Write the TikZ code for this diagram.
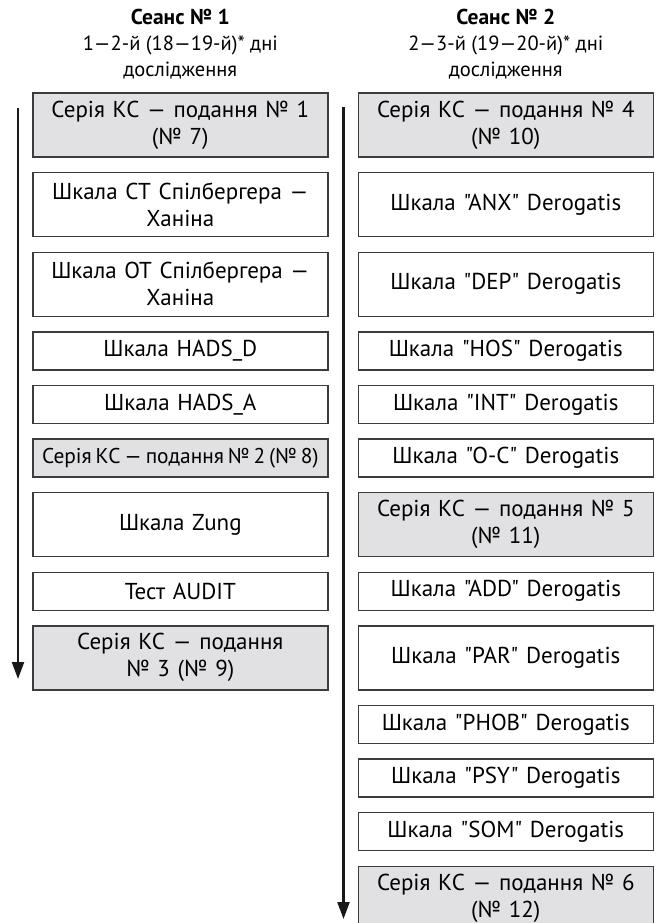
\documentclass[tikz,border=0pt]{standalone}
\usepackage{fontspec}
\setmainfont{PT Sans}[Ligatures=TeXOff]
\usetikzlibrary{arrows.meta}
\definecolor{boxgray}{RGB}{225,225,227}
\definecolor{edgecol}{RGB}{60,60,60}
\newcommand{\tightline}[1]{\mbox{\fontsize{21.4}{27}\selectfont\spaceskip=0.18em\relax #1}}
\begin{document}
\begin{tikzpicture}[x=1pt,y=-1pt,
  box/.style={draw=edgecol, line width=1.4pt, minimum width=295pt, text width=290pt, align=center, inner sep=0pt, font=\fontsize{23}{27}\selectfont},
  tall/.style={box, minimum height=64pt},
  short/.style={box, minimum height=38pt},
  grey/.style={fill=boxgray},
  flow/.style={line width=2.2pt, draw=black!90, -{Triangle[length=17pt,width=12pt]}},
  head/.style={align=center, font=\fontsize{20.5}{26}\selectfont}]
\clip (0,0) rectangle (656,923);
\fill[white] (0,0) rectangle (656,923);

% headers
\node[head] (h1) at (180.3,44) {\textbf{\fontsize{21.5}{26}\selectfont Сеанс № 1}\\1—2-й (18—19-й)* дні\\дослідження};
\node[head] (h2) at (505.8,44) {\textbf{\fontsize{21.5}{26}\selectfont Сеанс № 2}\\2—3-й (19—20-й)* дні\\дослідження};

% left column
\node[tall,grey] (l1) at (180.3,125) {Серія КС — подання № 1\\(№ 7)};
\node[tall] (l2) at (180.3,204.6) {Шкала СТ Спілбергера —\\Ханіна};
\node[tall] (l3) at (180.3,284.2) {Шкала ОТ Спілбергера —\\Ханіна};
\node[short] (l4) at (180.3,350.8) {Шкала HADS\_D};
\node[short] (l5) at (180.3,404.4) {Шкала HADS\_A};
\node[short,grey] (l6) at (180.3,458) {\tightline{Серія КС — подання № 2 (№ 8)}};
\node[tall] (l7) at (180.3,524.6) {Шкала Zung};
\node[short] (l8) at (180.3,591.2) {Тест AUDIT};
\node[tall,grey] (l9) at (180.3,657.8) {Серія КС — подання\\№ 3 (№ 9)};

% right column
\node[tall,grey] (r1) at (505.8,125) {Серія КС — подання № 4\\(№ 10)};
\node[tall] (r2) at (505.8,204.6) {Шкала "ANX" Derogatis};
\node[tall] (r3) at (505.8,284.2) {Шкала "DEP" Derogatis};
\node[short] (r4) at (505.8,350.8) {Шкала "HOS" Derogatis};
\node[short] (r5) at (505.8,404.4) {Шкала "INT" Derogatis};
\node[short] (r6) at (505.8,458) {Шкала "O-C" Derogatis};
\node[tall,grey] (r7) at (505.8,524.6) {Серія КС — подання № 5\\(№ 11)};
\node[short] (r8) at (505.8,591.2) {Шкала "ADD" Derogatis};
\node[tall] (r9) at (505.8,657.8) {Шкала "PAR" Derogatis};
\node[short] (r10) at (505.8,724.4) {Шкала "PHOB" Derogatis};
\node[short] (r11) at (505.8,778) {Шкала "PSY" Derogatis};
\node[short] (r12) at (505.8,831.6) {Шкала "SOM" Derogatis};
\node[tall,grey] (r13) at (505.8,898.2) {Серія КС — подання № 6\\(№ 12)};

% time arrows
\coordinate (ls) at (18,108);
\coordinate (le) at (18,679);
\coordinate (rs) at (343.5,107);
\coordinate (re) at (343.5,919);
\draw[flow] (ls) -- (le);
\draw[flow] (rs) -- (re);
\end{tikzpicture}
\end{document}
